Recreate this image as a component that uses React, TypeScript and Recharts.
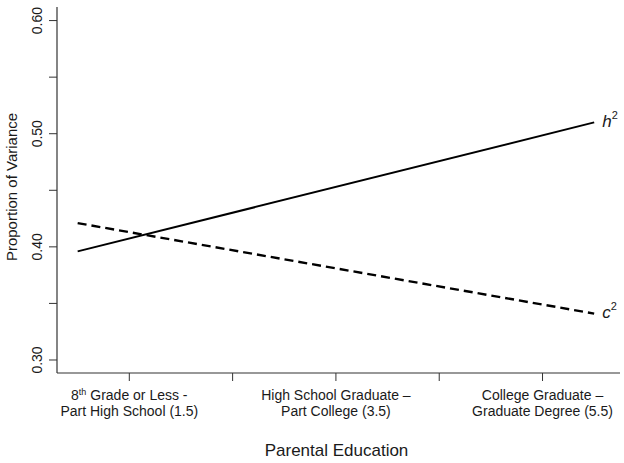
import React from 'react';
import { LineChart, Line, XAxis, YAxis } from 'recharts';

// parental education midpoints (x) and proportions of variance
const educationLevels = [1, 6];
const h2Values = [0.396, 0.51];
const c2Values = [0.421, 0.341];

const xTicks = [1.5, 2.5, 3.5, 4.5, 5.5];
const xLabelAt = [1.5, 3.5, 5.5];
const xLabelTop = ['8th Grade or Less -', 'High School Graduate \u2013', 'College Graduate \u2013'];
const xLabelBottom = ['Part High School (1.5)', 'Part College (3.5)', 'Graduate Degree (5.5)'];

const yTicks = [0.3, 0.35, 0.4, 0.45, 0.5, 0.55, 0.6];
const yLabelAt = [0.3, 0.4, 0.5, 0.6];

const data = educationLevels.map((x, i) => ({ x, h2: h2Values[i], c2: c2Values[i] }));

const FONT = 'Liberation Sans, Arial, Helvetica, sans-serif';
const TEXT = '#1a1a1a';
const AXIS = '#333';

const XTick = (props: any) => {
  const { x, y, payload } = props;
  const idx = xLabelAt.indexOf(payload.value);
  if (idx < 0) return null;
  const top = xLabelTop[idx];
  const m = top.match(/^(\d+)(th)(.*)$/);
  return (
    <g>
      <text x={x} y={y + 19} textAnchor="middle" fontSize={14} fontFamily={FONT} fill={TEXT}>
        {m ? (
          <>
            <tspan>{m[1]}</tspan>
            <tspan fontSize={9} dy={-5}>{m[2]}</tspan>
            <tspan dy={5}>{m[3]}</tspan>
          </>
        ) : top}
      </text>
      <text x={x} y={y + 35} textAnchor="middle" fontSize={14} fontFamily={FONT} fill={TEXT}>
        {xLabelBottom[idx]}
      </text>
    </g>
  );
};

const YTick = (props: any) => {
  const { x, y, payload } = props;
  if (!yLabelAt.some((v) => Math.abs(v - payload.value) < 1e-6)) return null;
  const cx = x - 12;
  return (
    <text
      x={cx}
      y={y}
      dy="0.35em"
      textAnchor="middle"
      transform={`rotate(-90, ${cx}, ${y})`}
      fontSize={14}
      fontFamily={FONT}
      fill={TEXT}
    >
      {payload.value.toFixed(2)}
    </text>
  );
};

const endLabel = (sym: string, dyText: number) => (props: any) => {
  const { x, y, index } = props;
  if (index !== data.length - 1) return null;
  return (
    <text x={x + 8} y={y + dyText} fontSize={17} fontFamily={FONT} fill={TEXT} fontStyle="italic">
      <tspan>{sym}</tspan>
      <tspan fontSize={11} dy={-8} fontStyle="normal">2</tspan>
    </text>
  );
};

const YTitle = (props: any) => {
  const { viewBox } = props;
  const cx = 12;
  const cy = viewBox.y + viewBox.height / 2 - 3;
  return (
    <text
      x={cx}
      y={cy}
      dy="0.35em"
      textAnchor="middle"
      transform={`rotate(-90, ${cx}, ${cy})`}
      fontSize={15}
      fontFamily={FONT}
      fill={TEXT}
    >
      Proportion of Variance
    </text>
  );
};

const XTitle = (props: any) => {
  const { viewBox } = props;
  return (
    <text
      x={viewBox.x + viewBox.width / 2 - 2}
      y={viewBox.y + viewBox.height - 7}
      textAnchor="middle"
      fontSize={17}
      fontFamily={FONT}
      fill={TEXT}
    >
      Parental Education
    </text>
  );
};

export default function App() {
  return (
    <div style={{ position: 'absolute', left: 0, top: 0, width: 624, height: 463, background: '#fff' }}>
      <LineChart width={624} height={463} data={data} margin={{ top: 7, right: 4, bottom: 0, left: 0 }}>
        <XAxis
          type="number"
          dataKey="x"
          domain={[0.8, 6.25]}
          ticks={xTicks}
          allowDataOverflow
          height={90}
          tickSize={8}
          tickMargin={0}
          tick={<XTick />}
          axisLine={{ stroke: AXIS, strokeWidth: 1.2 }}
          tickLine={{ stroke: AXIS, strokeWidth: 1 }}
          label={{ value: 'Parental Education', content: XTitle }}
        />
        <YAxis
          type="number"
          domain={[0.2885, 0.612]}
          ticks={yTicks}
          allowDataOverflow
          width={57}
          tickSize={8}
          tickMargin={0}
          tick={<YTick />}
          axisLine={{ stroke: AXIS, strokeWidth: 1.2 }}
          tickLine={{ stroke: AXIS, strokeWidth: 1 }}
          label={{ value: 'Proportion of Variance', content: YTitle }}
        />
        <Line
          type="linear"
          dataKey="h2"
          stroke="#000"
          strokeWidth={2}
          dot={false}
          isAnimationActive={false}
          label={endLabel('h', 5)}
        />
        <Line
          type="linear"
          dataKey="c2"
          stroke="#000"
          strokeWidth={2.4}
          strokeDasharray="9 5"
          dot={false}
          isAnimationActive={false}
          label={endLabel('c', 4)}
        />
      </LineChart>
    </div>
  );
}
